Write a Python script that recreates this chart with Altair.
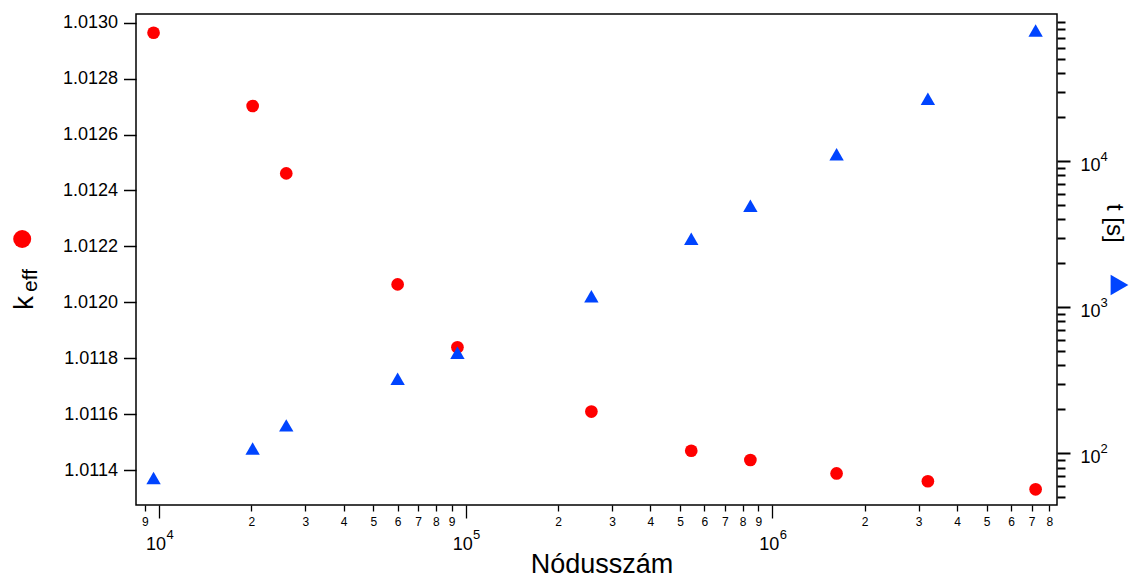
import altair as alt
import pandas as pd

FONT = "Liberation Sans"
RED = "#ff0000"
BLUE = "#0044ff"

# Mesh size (number of nodes) with the resulting k_eff and run time
nodes = [9600, 20200, 26000, 60000, 94000, 257000, 544000, 848000, 1620000, 3215000, 7220000]
keff = [1.012964, 1.012702, 1.012461, 1.012064, 1.011839, 1.011609,
        1.011469, 1.011436, 1.011388, 1.011360, 1.011331]
runtime_s = [67.7, 107.9, 155.5, 323.8, 488.7, 1189, 2946, 4958, 11185, 26840, 78680]

# Axis tick values
keff_ticks = [1.0114, 1.0116, 1.0118, 1.0120, 1.0122, 1.0124, 1.0126, 1.0128, 1.0130]
x_minor_ticks = [9000,
                 20000, 30000, 40000, 50000, 60000, 70000, 80000, 90000,
                 200000, 300000, 400000, 500000, 600000, 700000, 800000, 900000,
                 2000000, 3000000, 4000000, 5000000, 6000000, 7000000, 8000000]
x_major_ticks = [10000, 100000, 1000000]
t_minor_ticks = [50, 60, 70, 80, 90,
                 200, 300, 400, 500, 600, 700, 800, 900,
                 2000, 3000, 4000, 5000, 6000, 7000, 8000, 9000,
                 20000, 30000, 40000, 50000, 60000, 70000, 80000, 90000]
t_major_ticks = [100, 1000, 10000]

df = pd.DataFrame({"nodes": nodes, "keff": keff, "t": runtime_s})

x_scale = alt.Scale(type="log", domain=[8414, 8.477e6], nice=False)
k_scale = alt.Scale(domain=[1.011275, 1.013031], zero=False, nice=False)
t_scale = alt.Scale(type="log", domain=[44.3, 1.02e5], nice=False)

EXPONENT = "toString(round(log(datum.value) / LN10))"

common = dict(grid=False, domain=False, labelFont=FONT, labelColor="black",
              tickColor="black", labelOverlap=False, labelFlush=False)

# keff: red circles, left axis and the minor bottom ticks
circles = alt.Chart(df).mark_point(
    shape="circle", filled=True, size=161, opacity=1, color=RED
).encode(
    x=alt.X("nodes:Q", scale=x_scale, title=None, axis=alt.Axis(
        orient="bottom", values=x_minor_ticks,
        labelExpr="substring(toString(datum.value), 0, 1)",
        tickSize=6, tickWidth=1.3, labelFontSize=12, labelPadding=5, **common)),
    y=alt.Y("keff:Q", scale=k_scale, title=None, axis=alt.Axis(
        orient="left", values=keff_ticks, format=".4f",
        tickSize=12.5, tickWidth=1.5, labelFontSize=18, labelPadding=6, **common)),
)

# run time: blue triangles, major decade ticks at the bottom and on the right
triangles = alt.Chart(df).mark_point(
    shape="triangle-up", filled=True, size=207, opacity=1, color=BLUE
).encode(
    x=alt.X("nodes:Q", scale=x_scale, axis=alt.Axis(
        orient="bottom", values=x_major_ticks, labelExpr="'10'",
        tickSize=13, tickWidth=1.3, labelFontSize=18, labelPadding=17, labelOffset=-3.5,
        title="Nódusszám", titleFont=FONT, titleFontSize=27, titleFontWeight="normal",
        titleColor="black", titleX=465.5, titleY=67, titleAlign="center",
        titleBaseline="alphabetic", **common)),
    y=alt.Y("t:Q", scale=t_scale, title=None, axis=alt.Axis(
        orient="right", values=t_major_ticks, labelExpr="'10'",
        tickSize=13, tickWidth=2, labelFontSize=18, labelPadding=10,
        labelAlign="left", labelBaseline="middle", labelOffset=4, **common)),
)

# decade exponents drawn as raised labels
exponents = alt.Chart(df).mark_point(opacity=0).encode(
    x=alt.X("nodes:Q", scale=x_scale, title=None, axis=alt.Axis(
        orient="bottom", values=x_major_ticks, labelExpr=EXPONENT,
        ticks=False, tickSize=0, labelFontSize=13, labelPadding=23, labelOffset=10.5, **common)),
    y=alt.Y("t:Q", scale=t_scale, title=None, axis=alt.Axis(
        orient="right", values=t_major_ticks, labelExpr=EXPONENT,
        ticks=False, tickSize=0, labelFontSize=13, labelPadding=43,
        labelAlign="left", labelBaseline="middle", labelOffset=-4.5, **common)),
)

# minor ticks of the run-time axis
t_minor = alt.Chart(df).mark_point(opacity=0).encode(
    x=alt.X("nodes:Q", scale=x_scale, axis=None),
    y=alt.Y("t:Q", scale=t_scale, title=None, axis=alt.Axis(
        orient="right", values=t_minor_ticks, labels=False,
        tickSize=8, tickWidth=2, **common)),
)


def caption(text, x, y, size, angle):
    return alt.Chart(pd.DataFrame({"txt": [text]})).mark_text(
        angle=angle, align="left", baseline="alphabetic",
        fontSize=size, font=FONT, color="black"
    ).encode(text="txt:N", x=alt.value(x), y=alt.value(y))


def symbol(shape, color, size, x, y):
    return alt.Chart(pd.DataFrame({"s": [shape]})).mark_point(
        shape=shape, filled=True, size=size, opacity=1, color=color
    ).encode(x=alt.value(x), y=alt.value(y))


left_title = [
    caption("k", -102.7, 296, 28, 270),
    caption("eff", -99.3, 278, 21, 270),
    symbol("circle", RED, 324, -113.8, 225),
]
right_title = [
    caption("t [s]", 970.5, 190, 24, 90),
    symbol("triangle-right", BLUE, 420, 983.5, 271),
]

chart = alt.layer(
    circles, triangles, exponents, t_minor, *left_title, *right_title
).resolve_scale(
    x="independent", y="independent"
).properties(
    width=921, height=491,
    autosize=alt.AutoSizeParams(type="none"),
    padding={"left": 136, "top": 14, "right": 72, "bottom": 70},
).configure(
    font=FONT, background="white"
).configure_view(
    stroke="black", strokeWidth=1.5
)

chart.save("out.html", embed_options={"renderer": "svg", "actions": False})
